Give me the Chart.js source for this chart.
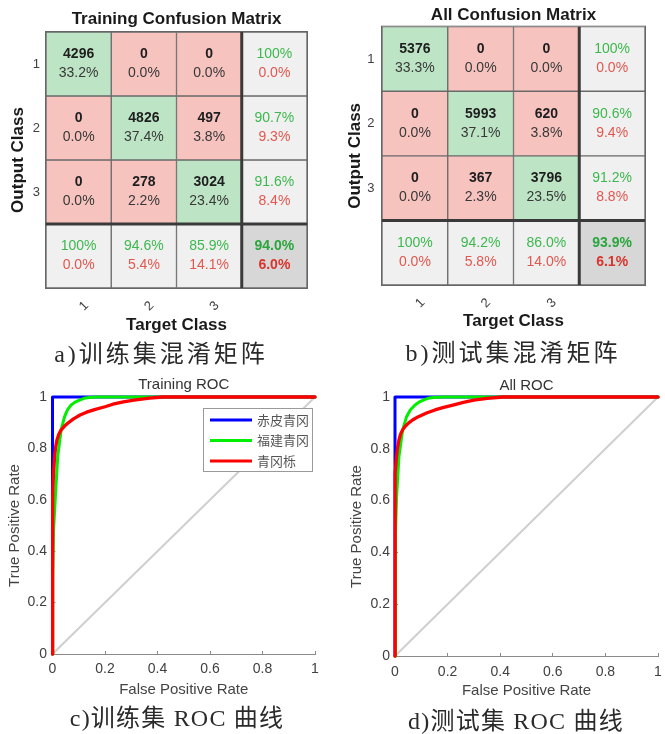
<!DOCTYPE html>
<html><head><meta charset="utf-8">
<script src="https://cdn.jsdelivr.net/npm/chart.js@4.4.1/dist/chart.umd.min.js"></script>
<style>
html,body{margin:0;padding:0;background:#fff;}
#page{position:relative;width:665px;height:734px;overflow:hidden;background:#fff;}
.panel{position:absolute;}
.cap{position:absolute;font-family:"Liberation Serif","Noto Sans CJK SC",serif;font-size:24px;color:#2a2a2a;white-space:nowrap;transform:translate(-50%,-50%);line-height:1;}
.cap span{font-family:"Noto Sans CJK SC",sans-serif;}
</style></head><body>
<div id="page">
  <div class="panel" style="left:0;top:0;width:330px;height:340px"><canvas id="cmA"></canvas></div>
  <div class="panel" style="left:330px;top:0;width:335px;height:340px"><canvas id="cmB"></canvas></div>
  <div class="panel" style="left:0;top:370px;width:330px;height:330px"><canvas id="rocC"></canvas></div>
  <div class="panel" style="left:330px;top:370px;width:345px;height:330px"><canvas id="rocD"></canvas></div>
  <div class="cap" style="left:161px;top:353px;letter-spacing:3px">a)<span>训练集混淆矩阵</span></div>
  <div class="cap" style="left:513px;top:352px;letter-spacing:3px">b)<span>测试集混淆矩阵</span></div>
  <div class="cap" style="left:177px;top:717px;letter-spacing:1.2px">c)<span>训练集</span> ROC <span>曲线</span></div>
  <div class="cap" style="left:516px;top:720px;letter-spacing:1.2px">d)<span>测试集</span> ROC <span>曲线</span></div>
</div>
<script>
// ---------------- DATA ----------------
const classLabels = ['1', '2', '3'];

// Training confusion matrix
const trainCounts = [[4296, 0, 0], [0, 4826, 497], [0, 278, 3024]];
const trainPct = [['33.2%', '0.0%', '0.0%'], ['0.0%', '37.4%', '3.8%'], ['0.0%', '2.2%', '23.4%']];
const trainRowAcc = ['100%', '90.7%', '91.6%'];
const trainRowErr = ['0.0%', '9.3%', '8.4%'];
const trainColAcc = ['100%', '94.6%', '85.9%'];
const trainColErr = ['0.0%', '5.4%', '14.1%'];
const trainTotal = ['94.0%', '6.0%'];

// All confusion matrix
const allCounts = [[5376, 0, 0], [0, 5993, 620], [0, 367, 3796]];
const allPct = [['33.3%', '0.0%', '0.0%'], ['0.0%', '37.1%', '3.8%'], ['0.0%', '2.3%', '23.5%']];
const allRowAcc = ['100%', '90.6%', '91.2%'];
const allRowErr = ['0.0%', '9.4%', '8.8%'];
const allColAcc = ['100%', '94.2%', '86.0%'];
const allColErr = ['0.0%', '5.8%', '14.0%'];
const allTotal = ['93.9%', '6.1%'];

// ROC
const rocClassNames = ['赤皮青冈', '福建青冈', '青冈栎'];
const rocTicks = [0, 0.2, 0.4, 0.6, 0.8, 1];
const rocTickLabels = ['0', '0.2', '0.4', '0.6', '0.8', '1'];

const trainBlueFpr = [0, 0, 1];
const trainBlueTpr = [0, 1, 1];
const trainGreenFpr = [0, 0.001, 0.004, 0.011, 0.02, 0.033, 0.046, 0.057, 0.071, 0.086, 0.103, 0.12, 0.14, 0.17, 1];
const trainGreenTpr = [0, 0.3, 0.48, 0.614, 0.77, 0.872, 0.924, 0.95, 0.969, 0.98, 0.988, 0.995, 0.998, 1, 1];
const trainRedFpr = [0, 0, 0.001, 0.004, 0.008, 0.012, 0.017, 0.024, 0.033, 0.045, 0.058, 0.08, 0.105, 0.13, 0.16, 0.2, 0.23, 0.27, 0.31, 0.37, 0.42, 1];
const trainRedTpr = [0, 0.55, 0.614, 0.704, 0.769, 0.805, 0.833, 0.855, 0.872, 0.886, 0.898, 0.915, 0.93, 0.941, 0.951, 0.962, 0.972, 0.981, 0.988, 0.996, 1, 1];

const allBlueFpr = [0, 0, 1];
const allBlueTpr = [0, 1, 1];
const allGreenFpr = [0, 0.001, 0.003, 0.006, 0.015, 0.029, 0.044, 0.058, 0.076, 0.091, 0.108, 0.125, 0.145, 0.18, 1];
const allGreenTpr = [0, 0.3, 0.48, 0.615, 0.77, 0.873, 0.924, 0.95, 0.969, 0.98, 0.988, 0.995, 0.998, 1, 1];
const allRedFpr = [0, 0, 0.001, 0.006, 0.01, 0.015, 0.021, 0.029, 0.039, 0.051, 0.068, 0.089, 0.12, 0.152, 0.185, 0.22, 0.26, 0.30, 0.35, 0.41, 1];
const allRedTpr = [0, 0.6, 0.705, 0.77, 0.805, 0.834, 0.856, 0.873, 0.887, 0.899, 0.912, 0.924, 0.938, 0.95, 0.96, 0.969, 0.979, 0.988, 0.995, 1, 1];

// ---------------- STYLE ----------------
Chart.defaults.font.family = '"Liberation Sans", Arial, sans-serif';
Chart.defaults.color = '#404040';
Chart.defaults.animation = false;

const COL_GREEN_CELL = '#bde5c5';
const COL_RED_CELL = '#f6c3bf';
const COL_GRAY_CELL = '#f0f0f0';
const COL_DARK_CELL = '#d7d7d7';
const TXT_GREEN = '#3cb84e';
const TXT_RED = '#e2574f';
const TXT_GREEN_B = '#2aa63c';
const TXT_RED_B = '#d8352c';

function confusionChart(id, title, counts, pcts, rowAcc, rowErr, colAcc, colErr, total, geo) {
  const n = classLabels.length;
  const datasets = [];
  for (let r = 0; r <= n; r++) {
    const data = [], bg = [];
    for (let c = 0; c <= n; c++) {
      data.push([r, r + 1]);
      if (r < n && c < n) bg.push(r === c ? COL_GREEN_CELL : COL_RED_CELL);
      else if (r === n && c === n) bg.push(COL_DARK_CELL);
      else bg.push(COL_GRAY_CELL);
    }
    datasets.push({
      data, backgroundColor: bg, borderColor: '#6a6a6a', borderWidth: 1,
      borderSkipped: false, grouped: false, barPercentage: 1, categoryPercentage: 1
    });
  }
  const textPlugin = {
    id: 'cmText',
    afterDatasetsDraw(chart) {
      const { ctx, scales: { x, y }, chartArea } = chart;
      ctx.save();
      const xb = (x.getPixelForValue(n - 1) + x.getPixelForValue(n)) / 2;
      const yb = y.getPixelForValue(n);
      ctx.strokeStyle = '#666666';
      ctx.lineWidth = 1;
      ctx.strokeRect(chartArea.left - 0.5, chartArea.top - 0.5, chartArea.width + 1, chartArea.height + 1);
      ctx.strokeStyle = '#3a3a3a';
      ctx.lineWidth = 3;
      ctx.beginPath();
      ctx.moveTo(xb, chartArea.top); ctx.lineTo(xb, chartArea.bottom);
      ctx.moveTo(chartArea.left, yb); ctx.lineTo(chartArea.right, yb);
      ctx.stroke();
      ctx.textAlign = 'center';
      ctx.textBaseline = 'middle';
      const fam = '"Liberation Sans", Arial, sans-serif';
      for (let r = 0; r <= n; r++) {
        for (let c = 0; c <= n; c++) {
          const cx = x.getPixelForValue(c);
          const cy = y.getPixelForValue(r + 0.5);
          let t1, t2, f1 = 'normal', f2 = 'normal', c1, c2;
          if (r < n && c < n) { t1 = String(counts[r][c]); t2 = pcts[r][c]; f1 = 'bold'; c1 = '#1e1e1e'; c2 = '#383838'; }
          else if (r < n) { t1 = rowAcc[r]; t2 = rowErr[r]; c1 = TXT_GREEN; c2 = TXT_RED; }
          else if (c < n) { t1 = colAcc[c]; t2 = colErr[c]; c1 = TXT_GREEN; c2 = TXT_RED; }
          else { t1 = total[0]; t2 = total[1]; f1 = f2 = 'bold'; c1 = TXT_GREEN_B; c2 = TXT_RED_B; }
          ctx.font = f1 + ' 14px ' + fam; ctx.fillStyle = c1; ctx.fillText(t1, cx, cy - 9.5);
          ctx.font = f2 + ' 14px ' + fam; ctx.fillStyle = c2; ctx.fillText(t2, cx, cy + 9.5);
        }
      }
      ctx.restore();
    }
  };
  return new Chart(document.getElementById(id), {
    type: 'bar',
    data: { labels: [...classLabels, ''], datasets },
    options: {
      responsive: true, maintainAspectRatio: false,
      layout: { padding: geo.layout },
      plugins: {
        legend: { display: false }, tooltip: { enabled: false },
        title: { display: true, text: title, fullSize: false, color: '#1a1a1a',
          font: { size: 17, weight: 'bold' }, padding: geo.titlePad }
      },
      scales: {
        x: {
          type: 'category', offset: true,
          grid: { display: false, drawTicks: false }, border: { display: false },
          ticks: { minRotation: 45, maxRotation: 45, labelOffset: 8, padding: geo.xTickPad, color: '#404040', font: { size: 13 } },
          title: { display: true, text: 'Target Class', color: '#1a1a1a', font: { size: 17, weight: 'bold' }, padding: { top: 0, bottom: geo.xTitlePad } },
          afterFit: (s) => { s.height = geo.xHeight; }
        },
        y: {
          type: 'linear', min: 0, max: n + 1, reverse: true,
          grid: { display: false, drawTicks: false }, border: { display: false },
          afterBuildTicks: (s) => { s.ticks = classLabels.map((_, i) => ({ value: i + 0.5 })); },
          ticks: { padding: geo.yTickPad, color: '#404040', font: { size: 13 },
            callback: (v) => classLabels[Math.floor(v)] },
          title: { display: true, text: 'Output Class', color: '#1a1a1a', font: { size: 17, weight: 'bold' }, padding: { top: geo.yTitlePad, bottom: 0 } },
          afterFit: (s) => { s.width = geo.yWidth; }
        }
      }
    },
    plugins: [textPlugin]
  });
}

function rocChart(id, title, series, geo, withLegend) {
  const colors = ['#0000ff', '#00ee00', '#ff0000'];
  const widths = [3, 3, 3.3];
  const datasets = series.map((s, i) => ({
    label: rocClassNames[i],
    data: s[0].map((v, k) => ({ x: v, y: s[1][k] })),
    borderColor: colors[i], borderWidth: widths[i], showLine: true, clip: 6,
    pointRadius: 0, tension: 0, order: 3 - i, borderJoinStyle: 'round', borderCapStyle: 'round'
  }));
  datasets.push({
    label: 'diag', data: [{ x: 0, y: 0 }, { x: 1, y: 1 }],
    borderColor: '#cfcfcf', borderWidth: 2, showLine: true, pointRadius: 0, order: 10, clip: 6
  });
  const legendPlugin = {
    id: 'rocLegend',
    afterDraw(chart) {
      if (!withLegend) return;
      const { ctx, chartArea } = chart;
      const bx = chartArea.right - 112, by = chartArea.top + 11, bw = 110, bh = 64;
      ctx.save();
      ctx.fillStyle = '#ffffff';
      ctx.fillRect(bx, by, bw, bh);
      ctx.strokeStyle = '#9a9a9a';
      ctx.lineWidth = 1;
      ctx.strokeRect(bx + 0.5, by + 0.5, bw - 1, bh - 1);
      ctx.font = '13px "Noto Sans CJK SC", sans-serif';
      ctx.textBaseline = 'middle';
      ctx.textAlign = 'left';
      chart.data.datasets.slice(0, 3).forEach((d, i) => {
        const ly = by + 12 + i * 20.5;
        ctx.strokeStyle = d.borderColor;
        ctx.lineWidth = 3;
        ctx.beginPath(); ctx.moveTo(bx + 7, ly); ctx.lineTo(bx + 49, ly); ctx.stroke();
        ctx.fillStyle = '#555';
        ctx.fillText(d.label, bx + 54, ly);
      });
      ctx.restore();
    }
  };
  const axisCommon = (tickPad) => ({
    type: 'linear', min: 0, max: 1,
    afterBuildTicks: (s) => { s.ticks = rocTicks.map(v => ({ value: v })); },
    grid: { display: true, drawOnChartArea: false, drawTicks: true, tickLength: -3, color: '#8a8a8a' },
    border: { display: true, color: '#8a8a8a', width: 1 },
    ticks: { padding: tickPad, color: '#404040', font: { size: 14 },
      callback: (v) => rocTickLabels[rocTicks.indexOf(v)] ?? String(v) }
  });
  const xs = axisCommon(geo.xTickPad);
  xs.title = { display: true, text: 'False Positive Rate', color: '#444', font: { size: 15 }, padding: { top: 0, bottom: geo.xTitlePad } };
  xs.afterFit = (s) => { s.height = geo.xHeight; };
  const ys = axisCommon(geo.yTickPad);
  ys.title = { display: true, text: 'True Positive Rate', color: '#444', font: { size: 15 }, padding: { top: geo.yTitlePad, bottom: 0 } };
  ys.afterFit = (s) => { s.width = geo.yWidth; };
  return new Chart(document.getElementById(id), {
    type: 'scatter',
    data: { datasets },
    options: {
      responsive: true, maintainAspectRatio: false,
      layout: { padding: geo.layout },
      plugins: {
        legend: { display: false }, tooltip: { enabled: false },
        title: { display: true, text: title, fullSize: false, color: '#333',
          font: { size: 15, weight: 'normal' }, padding: geo.titlePad }
      },
      scales: { x: xs, y: ys }
    },
    plugins: [legendPlugin]
  });
}

confusionChart('cmA', 'Training Confusion Matrix', trainCounts, trainPct, trainRowAcc, trainRowErr, trainColAcc, trainColErr, trainTotal, {
  layout: { left: 0, top: 0, right: 23, bottom: 0 },
  titlePad: { top: 9.3, bottom: 2.3 }, yWidth: 46, xHeight: 52,
  yTitlePad: 8.1, yTickPad: 6, xTickPad: 10, xTitlePad: 4.8
});
confusionChart('cmB', 'All Confusion Matrix', allCounts, allPct, allRowAcc, allRowErr, allColAcc, allColErr, allTotal, {
  layout: { left: 0, top: 0, right: 20, bottom: 0 },
  titlePad: { top: 4.8, bottom: 1.5 }, yWidth: 52, xHeight: 55,
  yTitlePad: 14.8, yTickPad: 7.5, xTickPad: 10, xTitlePad: 8.1
});
rocChart('rocC', 'Training ROC', [[trainBlueFpr, trainBlueTpr], [trainGreenFpr, trainGreenTpr], [trainRedFpr, trainRedTpr]], {
  layout: { left: 0, top: 0, right: 15, bottom: 0 },
  titlePad: { top: 6, bottom: 3 }, yWidth: 52.5, xHeight: 46,
  yTitlePad: 6, yTickPad: 8.5, xTickPad: 9.6, xTitlePad: 1
}, true);
rocChart('rocD', 'All ROC', [[allBlueFpr, allBlueTpr], [allGreenFpr, allGreenTpr], [allRedFpr, allRedTpr]], {
  layout: { left: 0, top: 0, right: 17, bottom: 0 },
  titlePad: { top: 7, bottom: 2 }, yWidth: 65, xHeight: 44,
  yTitlePad: 18, yTickPad: 8, xTickPad: 10.6, xTitlePad: 0.3
}, false);
</script>
</body></html>
